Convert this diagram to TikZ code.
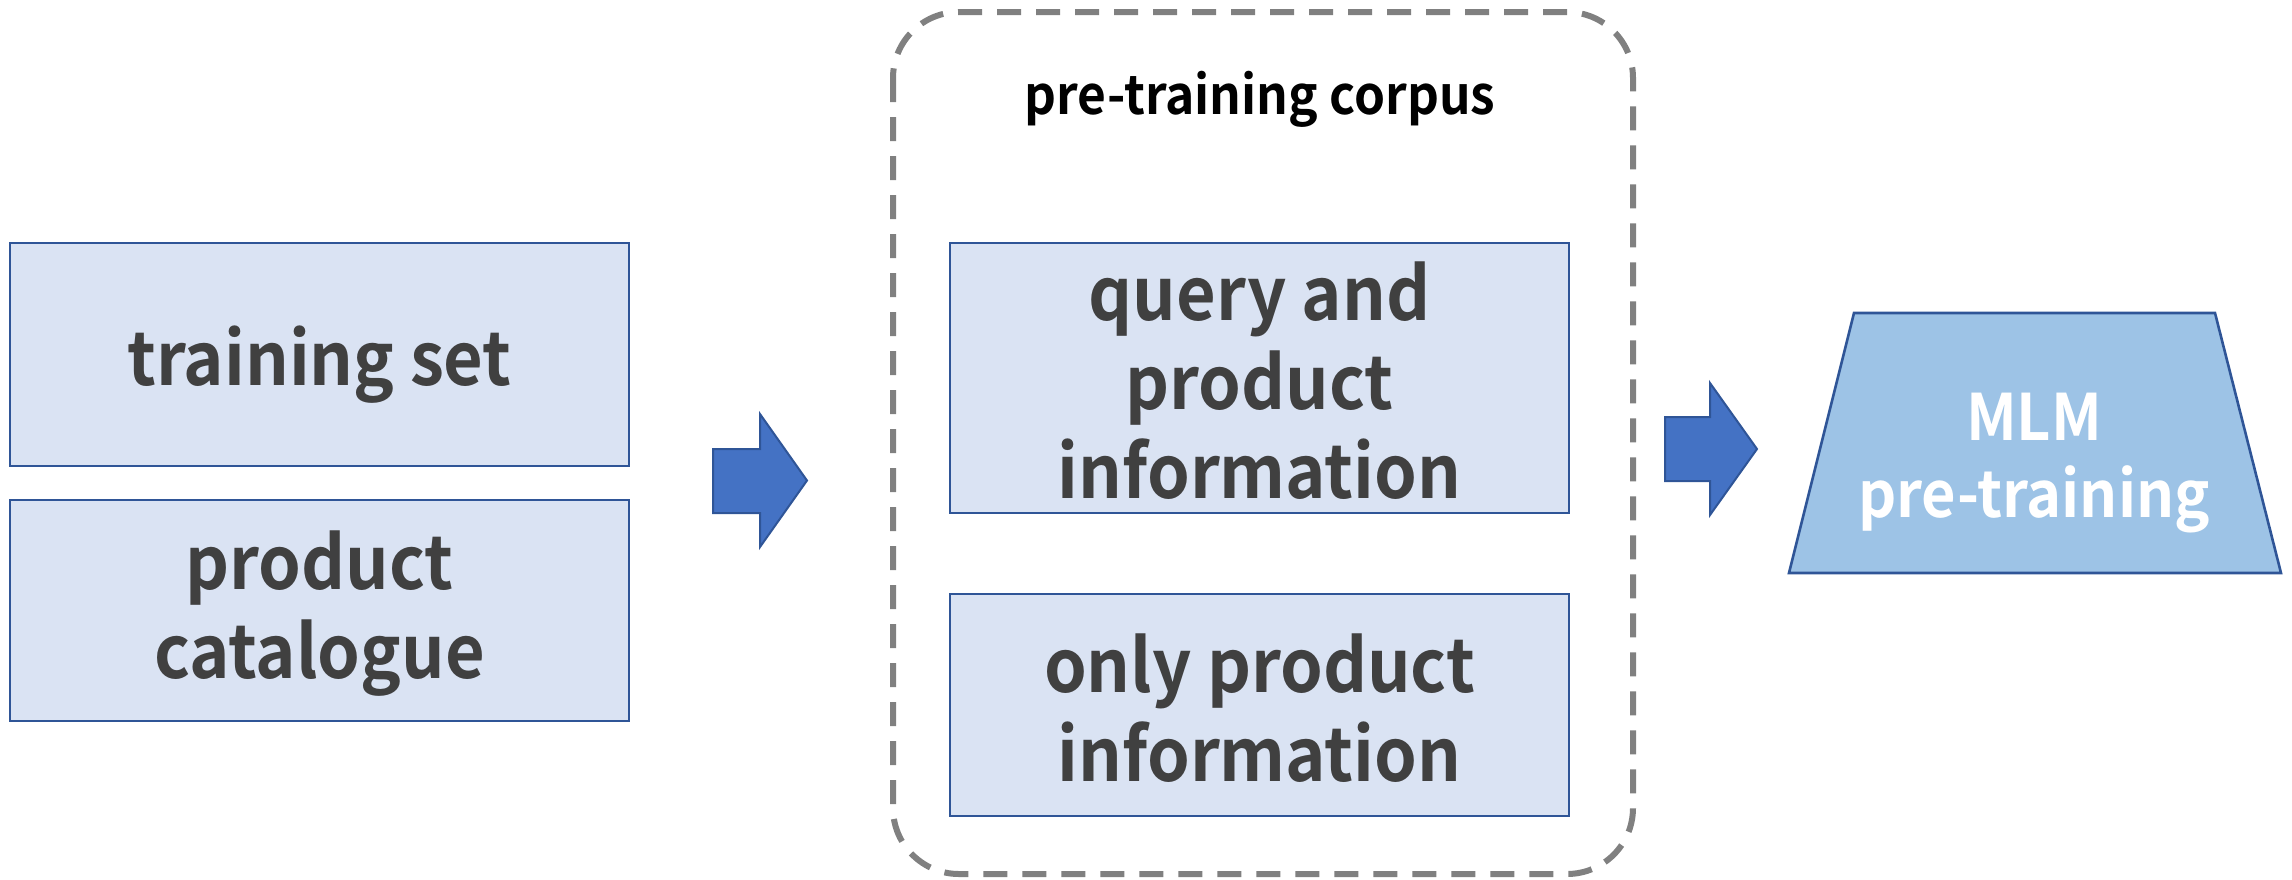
\documentclass[tikz,border=0pt]{standalone}
\usepackage{fontspec}
\setmainfont{Noto Sans CJK SC}[BoldFont={* Bold},FakeStretch=0.93]
\begin{document}
\begin{tikzpicture}[x=0.5pt,y=-0.5pt,
  boxstyle/.style={draw=boxline,fill=boxfill,line width=1.3pt,inner sep=0pt},
  bigtxt/.style={text=txtgray,font=\bfseries\fontsize{36.8}{44.5}\selectfont,align=center},
  blockarrow/.style={draw=boxline,fill=arrowfill,line width=1pt,line join=miter}]
\definecolor{boxline}{HTML}{2F5597}
\definecolor{boxfill}{HTML}{DAE3F3}
\definecolor{arrowfill}{HTML}{4472C4}
\definecolor{trapfill}{HTML}{9DC3E6}
\definecolor{txtgray}{HTML}{404040}
\definecolor{dashgray}{HTML}{808080}
\useasboundingbox (0,0) rectangle (2292,879);
% container
\draw[dashgray,line width=3pt,dash pattern=on 12pt off 7.5pt,rounded corners=33pt] (893,12) rectangle (1633,874);
\node (corpus) at (1260,99) {\fontsize{26.7}{30}\selectfont\bfseries pre-training corpus};
% left boxes
\draw[boxstyle] (10,243) rectangle (629,466);
\node[bigtxt] (train) at (319.5,365) {training set};
\draw[boxstyle] (10,500) rectangle (629,721);
\node[bigtxt] (cat) at (319.5,614) {product\\catalogue};
% middle boxes
\draw[boxstyle] (950,243) rectangle (1569,513);
\node[bigtxt] (query) at (1259.5,381) {query and\\product\\information};
\draw[boxstyle] (950,594) rectangle (1569,816);
\node[bigtxt] (only) at (1259.5,708) {only product\\information};
% arrows
\draw[blockarrow] (713,449) -- (760,449) -- (760,414) -- (807,480.5) -- (760,547) -- (760,513) -- (713,513) -- cycle;
\draw[blockarrow] (1665,417) -- (1710,417) -- (1710,383) -- (1757,449) -- (1710,515) -- (1710,481) -- (1665,481) -- cycle;
% trapezoid
\draw[draw=boxline,fill=trapfill,line width=1.3pt] (1854,313) -- (2215,313) -- (2281,573) -- (1789,573) -- cycle;
\node[text=white,font=\bfseries\fontsize{32}{38.5}\selectfont,align=center] (mlm) at (2034,463) {MLM\\pre-training};
\end{tikzpicture}
\end{document}
